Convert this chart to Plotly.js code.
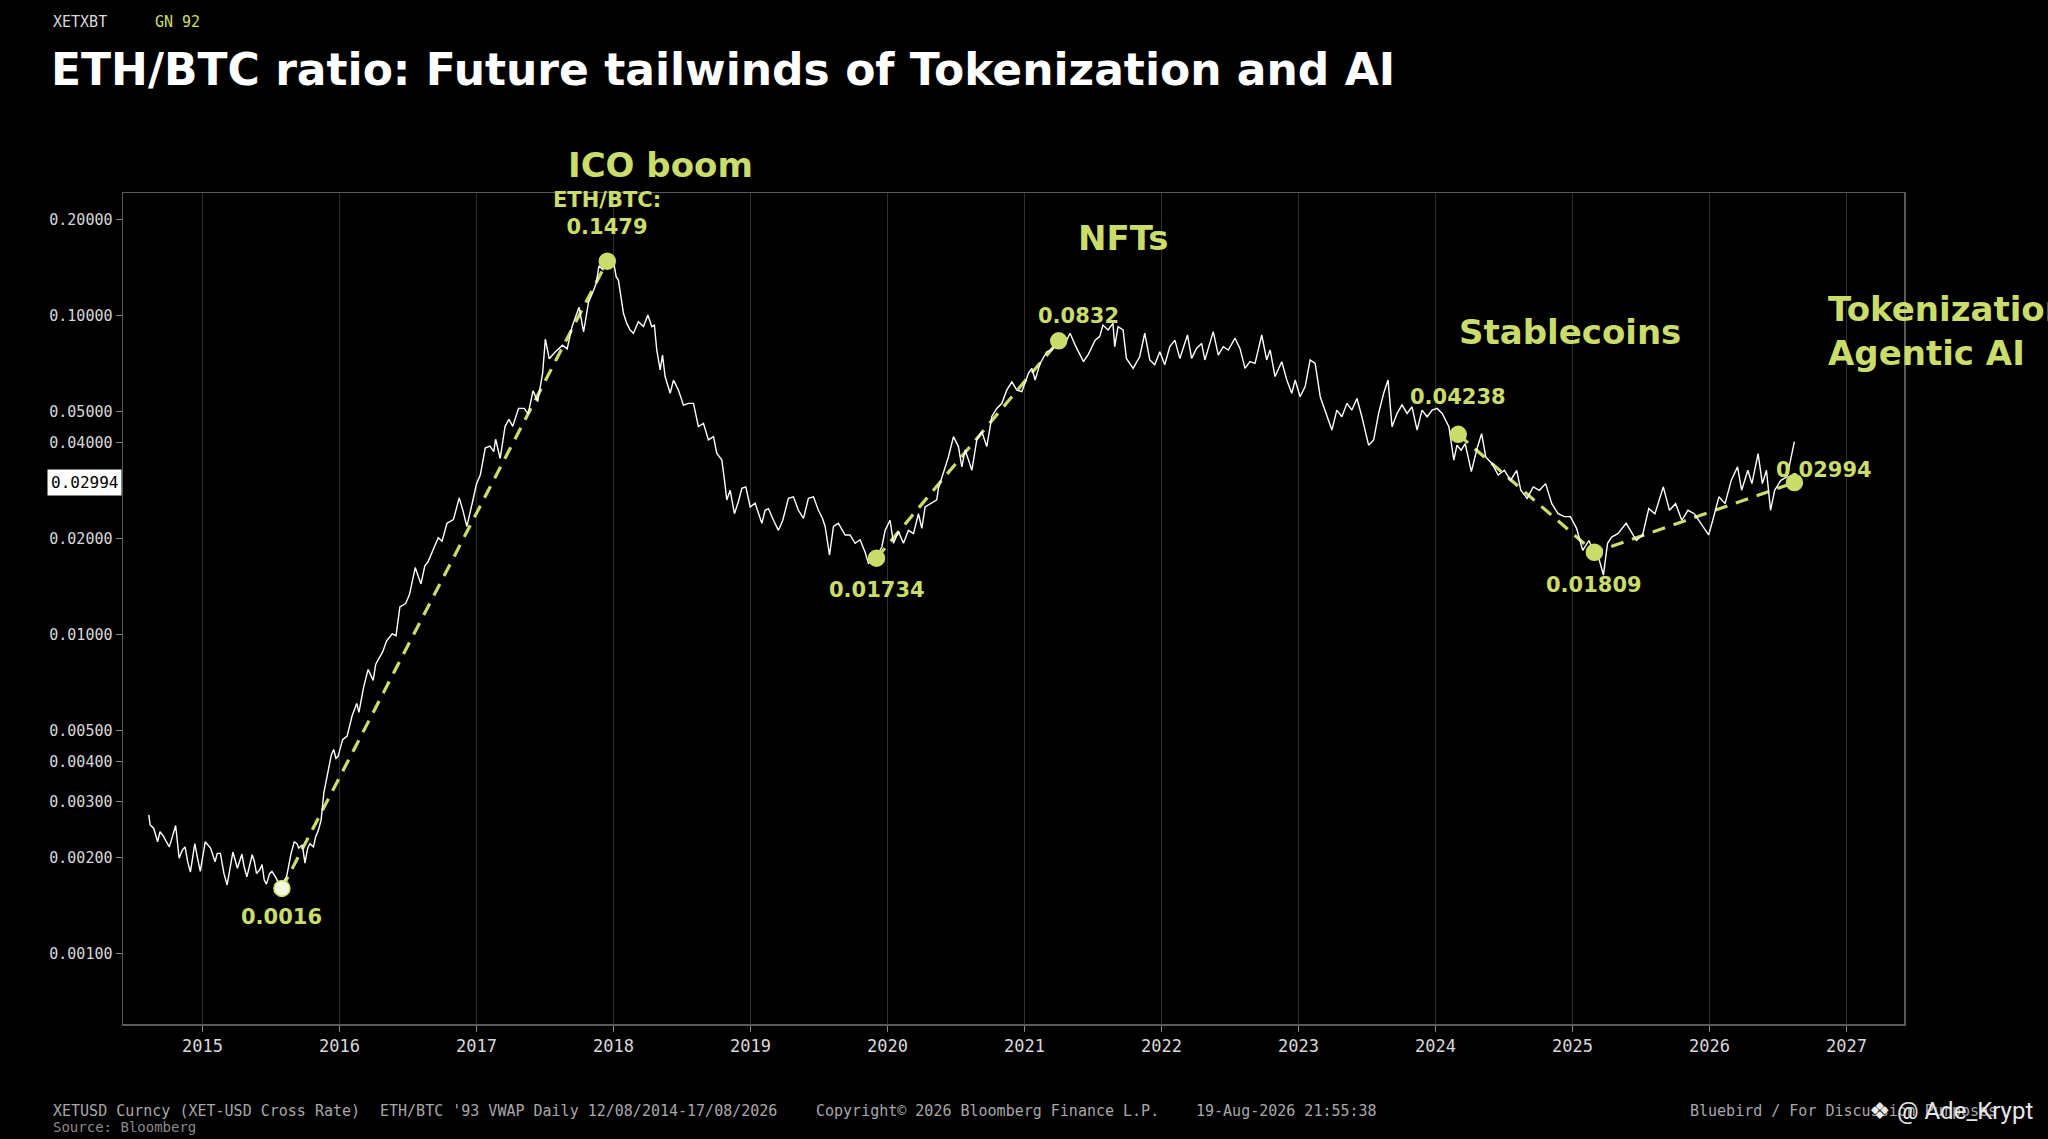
<!DOCTYPE html>
<html><head><meta charset="utf-8">
<script src="https://cdn.plot.ly/plotly-3.0.1.min.js"></script>
<style>html,body{margin:0;padding:0;background:#000;} #chart{width:2048px;height:1139px;}</style>
</head><body><div id="chart"></div>
<script>
// ---- DATA ----
const years = [
2014.608,2014.618,2014.644,2014.673,2014.690,2014.716,2014.732,2014.758,2014.781,2014.804,
2014.830,2014.853,2014.873,2014.892,2014.912,2014.944,2014.964,2014.984,2015.020,2015.042,
2015.059,2015.092,2015.108,2015.131,2015.157,2015.180,2015.222,2015.239,2015.255,2015.288,
2015.304,2015.324,2015.363,2015.379,2015.395,2015.418,2015.435,2015.451,2015.467,2015.490,
2015.507,2015.539,2015.572,2015.598,2015.614,2015.647,2015.670,2015.690,2015.703,2015.729,
2015.748,2015.768,2015.784,2015.810,2015.827,2015.843,2015.866,2015.886,2015.908,2015.925,
2015.941,2015.958,2015.974,2015.990,2016.023,2016.056,
2016.092,2016.126,2016.142,2016.176,2016.209,2016.246,2016.265,2016.316,2016.344,2016.385,
2016.413,2016.441,2016.483,2016.511,2016.553,2016.595,2016.623,2016.645,2016.693,2016.721,
2016.749,2016.785,2016.832,2016.874,2016.902,2016.930,2016.972,2017.000,2017.028,2017.064,
2017.098,2017.126,2017.140,2017.173,2017.209,2017.237,2017.265,2017.307,2017.349,2017.377,
2017.413,2017.447,2017.483,2017.503,2017.531,2017.573,2017.628,2017.662,2017.698,2017.726,
2017.749,2017.782,2017.818,2017.852,2017.874,2017.894,2017.922,2017.944,2017.978,2018.006,
2018.020,
2018.036,2018.056,2018.073,2018.097,2018.122,2018.146,2018.182,2018.219,2018.251,2018.280,
2018.299,2018.316,2018.341,2018.358,2018.377,2018.414,2018.438,2018.474,2018.511,2018.547,
2018.584,2018.620,2018.657,2018.693,2018.730,2018.754,2018.791,2018.810,2018.827,2018.852,
2018.883,2018.912,2018.937,2018.966,2018.998,2019.034,2019.058,2019.083,2019.107,2019.131,
2019.168,2019.204,2019.236,2019.277,2019.314,2019.350,2019.387,2019.423,2019.460,2019.496,
2019.526,2019.545,2019.577,2019.606,2019.642,2019.691,2019.727,2019.764,2019.800,2019.837,
2019.861,2019.910,2019.959,2019.983,2020.019,2020.044,2020.080,2020.117,2020.153,2020.190,
2020.226,2020.251,2020.275,2020.324,2020.360,2020.372,2020.409,2020.445,2020.482,2020.518,
2020.543,2020.567,2020.616,2020.652,2020.689,2020.725,2020.762,2020.798,2020.835,2020.871,
2020.908,2020.944,2020.981,2021.029,2021.054,2021.078,2021.114,2021.163,2021.200,2021.243,
2021.285,2021.333,2021.370,2021.406,2021.431,2021.467,2021.516,
2021.549,2021.573,2021.610,2021.646,2021.659,2021.683,2021.720,2021.744,2021.793,2021.841,
2021.878,2021.915,2021.951,2021.988,2022.024,2022.061,2022.098,2022.134,2022.190,2022.220,
2022.256,2022.293,2022.317,2022.378,2022.415,2022.451,2022.488,2022.537,2022.573,2022.610,
2022.646,2022.683,2022.732,2022.768,2022.793,2022.829,2022.878,2022.915,2022.951,2022.976,
2023.012,2023.049,2023.085,2023.122,2023.159,2023.195,2023.244,2023.280,2023.317,2023.354,
2023.390,2023.427,2023.463,2023.512,2023.549,2023.585,2023.622,2023.654,2023.683,2023.720,
2023.756,2023.793,2023.829,2023.866,2023.902,2023.939,2023.976,2024.012,2024.049,2024.098,
2024.134,
2024.157,2024.187,2024.217,2024.262,2024.307,2024.337,2024.367,2024.413,2024.458,2024.503,
2024.548,2024.593,2024.623,2024.669,2024.714,2024.759,2024.804,2024.849,2024.895,2024.940,
2024.985,2025.030,2025.075,2025.120,2025.151,2025.196,2025.226,2025.256,2025.286,2025.331,
2025.392,2025.422,2025.467,2025.512,2025.557,2025.602,2025.663,2025.708,2025.753,2025.798,
2025.843,2025.889,2025.934,2025.994,2026.024,2026.069,2026.114,2026.160,2026.205,2026.235,
2026.280,2026.310,2026.355,2026.386,2026.416,2026.446,2026.476,2026.521,2026.566,2026.596,
2026.620
];
const ratio = [
0.00272,0.00253,0.00247,0.00224,0.00241,0.00233,0.00226,0.00216,0.00233,0.00252,
0.00199,0.00211,0.00216,0.00194,0.00180,0.00221,0.00199,0.00181,0.00224,0.00219,
0.00214,0.00194,0.00206,0.00206,0.00178,0.00164,0.00208,0.00196,0.00185,0.00205,
0.00187,0.00174,0.00204,0.00194,0.00178,0.00183,0.00190,0.00170,0.00165,0.00178,
0.00181,0.00172,0.00160,0.00170,0.00174,0.00206,0.00224,0.00221,0.00214,0.00219,
0.00192,0.00214,0.00221,0.00216,0.00233,0.00241,0.00262,0.00319,0.00359,0.00391,
0.00420,0.00436,0.00409,0.00415,0.00468,0.00480,
0.00555,0.00608,0.00570,0.00683,0.00777,0.00718,0.00807,0.00883,0.00955,0.01005,
0.00991,0.0122,0.0125,0.01333,0.0162,0.0144,0.0164,0.01683,0.0187,0.0201,
0.0196,0.0223,0.0229,0.0268,0.0244,0.0218,0.0261,0.0296,0.0316,0.0384,
0.0389,0.0374,0.0409,0.0356,0.0449,0.0472,0.0449,0.0511,0.0511,0.0491,
0.058,0.0537,0.0659,0.0843,0.0731,0.0766,0.0806,0.0785,0.0922,0.0997,
0.106,0.0888,0.110,0.119,0.126,0.143,0.139,0.148,0.143,0.143,
0.132,
0.129,0.1145,0.1015,0.0944,0.0899,0.0879,0.0955,0.0922,0.1003,0.0922,
0.0932,0.0779,0.0675,0.0751,0.0643,0.057,0.0627,0.0583,0.0523,0.053,
0.053,0.0448,0.0459,0.0407,0.0417,0.037,0.0352,0.0305,0.0264,0.0283,
0.0239,0.0261,0.0287,0.0290,0.0251,0.0258,0.0239,0.0223,0.0245,0.0248,
0.0228,0.0212,0.0228,0.0267,0.0270,0.0245,0.0231,0.0267,0.0270,0.0245,
0.0231,0.0218,0.01774,0.0218,0.0223,0.0205,0.0205,0.0193,0.0198,0.0181,
0.0167,0.0173,0.0188,0.0212,0.0228,0.0193,0.0210,0.0193,0.0212,0.0207,
0.0239,0.0215,0.0251,0.0258,0.0264,0.0287,0.032,0.036,0.0417,0.0388,
0.0335,0.0379,0.0327,0.0407,0.0432,0.0388,0.0482,0.0511,0.053,0.0583,
0.0619,0.0583,0.0577,0.0658,0.0682,0.0627,0.0707,0.0769,0.0779,0.0836,
0.0798,0.0879,0.0807,0.0756,0.0716,0.0756,0.0836,
0.0858,0.0933,0.0900,0.0944,0.0798,0.0922,0.0900,0.0733,0.0682,0.0742,
0.0879,0.0725,0.0700,0.0769,0.0700,0.0798,0.0836,0.0733,0.0868,0.0733,
0.0788,0.0817,0.0725,0.0889,0.0751,0.0798,0.0779,0.0848,0.0788,0.0682,
0.0716,0.0707,0.0868,0.0725,0.0779,0.0643,0.0716,0.0627,0.0570,0.0627,
0.0556,0.0598,0.0725,0.0707,0.0556,0.0499,0.0437,0.0505,0.0481,0.0530,
0.0505,0.0549,0.0481,0.0392,0.0407,0.0493,0.0570,0.0627,0.0448,0.0493,
0.0524,0.0493,0.0517,0.0437,0.0505,0.0481,0.0505,0.0511,0.0493,0.0448,
0.0352,
0.0392,0.0378,0.0396,0.0324,0.0387,0.0426,0.0360,0.0343,0.0316,0.0327,
0.0304,0.0327,0.0283,0.0267,0.0290,0.0283,0.0297,0.0257,0.0239,0.0234,
0.0234,0.0215,0.01835,0.0197,0.01835,0.0171,0.01535,0.0193,0.0202,0.0207,
0.0223,0.0213,0.0197,0.0205,0.0248,0.0239,0.0290,0.0245,0.0257,0.0228,
0.0245,0.0239,0.0223,0.0205,0.0228,0.0270,0.0257,0.0305,0.0335,0.0283,
0.0327,0.0297,0.0369,0.0297,0.0327,0.0245,0.0283,0.0304,0.0312,0.0360,
0.0402
];
const pivotYears  = [2015.58, 2017.955, 2019.92, 2021.25, 2024.166, 2025.16, 2026.62];
const pivotValues = [0.0016, 0.1479, 0.01734, 0.0832, 0.04238, 0.01809, 0.02994];
const pivotLabels = ['0.0016', 'ETH/BTC:<br>0.1479', '0.01734', '0.0832', '0.04238', '0.01809', '0.02994'];
const trendGroups = [[0, 1], [2, 3], [4, 5, 6]];
const themeLabels = ['ICO boom', 'NFTs', 'Stablecoins', 'Tokenization<br>Agentic AI'];
const yTickVals = [0.001, 0.002, 0.003, 0.004, 0.005, 0.01, 0.02, 0.04, 0.05, 0.1, 0.2];
const yTickText = ['0.00100','0.00200','0.00300','0.00400','0.00500','0.01000','0.02000','0.04000','0.05000','0.10000','0.20000'];
const xTickVals = [2015, 2016, 2017, 2018, 2019, 2020, 2021, 2022, 2023, 2024, 2025, 2026, 2027];
const lastValue = 0.02994;

// ---- STYLE ----
const ACC = '#cadd6b';
const MONO = 'DejaVu Sans Mono, monospace';
const SANS = 'DejaVu Sans, sans-serif';

const traces = [];
trendGroups.forEach(g => {
  traces.push({
    x: g.map(i => pivotYears[i]), y: g.map(i => pivotValues[i]),
    type: 'scatter', mode: 'lines', hoverinfo: 'skip',
    line: {color: ACC, width: 3.2, dash: '13px,9px'}
  });
});
traces.push({
  x: years, y: ratio, type: 'scatter', mode: 'lines', hoverinfo: 'skip',
  line: {color: '#ffffff', width: 1.4}
});
traces.push({
  x: pivotYears, y: pivotValues, type: 'scatter', mode: 'markers', hoverinfo: 'skip',
  marker: {size: 16, color: pivotValues.map((v, i) => i === 0 ? '#f6f8de' : ACC),
           line: {width: 1.5, color: pivotValues.map((v, i) => i === 0 ? ACC : ACC)}}
});

const labelShift = [[0, -29], [0, 48], [0, -32], [20, 25], [0, 37], [0, -33], [30, 12]];
const annotations = pivotLabels.map((t, i) => ({
  x: pivotYears[i], y: Math.log10(pivotValues[i]), xref: 'x', yref: 'y',
  text: '<b>' + t + '</b>', showarrow: false, xanchor: 'center', yanchor: 'middle',
  xshift: labelShift[i][0], yshift: labelShift[i][1],
  font: {family: SANS, size: 21, color: ACC}
}));

const themePos = [[0.302, 1.034, 'center'], [0.562, 0.946, 'center'], [0.8125, 0.833, 'center'], [0.956, 0.834, 'left']];
themeLabels.forEach((t, i) => {
  annotations.push({
    x: themePos[i][0], y: themePos[i][1], xref: 'paper', yref: 'paper',
    text: '<b>' + t + '</b>', showarrow: false, xanchor: themePos[i][2], yanchor: 'middle', align: 'left',
    font: {family: SANS, size: 34, color: ACC}
  });
});

// current value box on the y axis
annotations.push({
  x: 0, y: Math.log10(lastValue), xref: 'paper', yref: 'y', xanchor: 'right', yanchor: 'middle',
  xshift: -1, text: lastValue.toFixed(5), showarrow: false, bgcolor: '#ffffff', borderpad: 3,
  font: {family: MONO, size: 16, color: '#000000'}
});

// header / footer texts
const small = (x, y, text, color, size, family, anchor) => ({
  x: x, y: y, xref: 'paper', yref: 'paper', xanchor: anchor || 'left', yanchor: 'middle',
  text: text, showarrow: false, font: {family: family || MONO, size: size || 15, color: color}
});
annotations.push(small(-0.0404, 1.2058, 'XETXBT', '#d8d8d8', 15));
annotations.push(small(0.0168, 1.2058, 'GN 92', ACC, 15));
annotations.push(small(-0.0404, -0.1047, 'XETUSD Curncy (XET-USD Cross Rate)', '#a8a8a8', 15));
annotations.push(small(0.1429, -0.1047, "ETH/BTC '93 VWAP Daily 12/08/2014-17/08/2026", '#a8a8a8', 15));
annotations.push(small(0.3878, -0.1047, 'Copyright\u00a9 2026 Bloomberg Finance L.P.', '#a8a8a8', 15));
annotations.push(small(0.6012, -0.1047, '19-Aug-2026 21:55:38', '#a8a8a8', 15));
annotations.push(small(-0.0404, -0.1240, 'Source: Bloomberg', '#8a8a8a', 14));
annotations.push(small(0.8785, -0.1047, 'Bluebird / For Discussion Purposes', '#a8a8a8', 15));
annotations.push(small(0.9795, -0.1047, '\u2756 @ Ade_Krypt', '#e8e8e8', 24, 'Roboto, sans-serif'));

const layout = {
  width: 2048, height: 1139,
  paper_bgcolor: '#000000', plot_bgcolor: '#000000',
  margin: {l: 123, r: 144, t: 193, b: 115},
  showlegend: false, hovermode: false,
  title: {text: '<b>ETH/BTC ratio: Future tailwinds of Tokenization and AI</b>',
          x: 51 / 2048, xanchor: 'left', xref: 'container',
          y: 1 - 70 / 1139, yanchor: 'middle', yref: 'container',
          font: {family: SANS, size: 44, color: '#ffffff'}},
  xaxis: {
    range: [2014.42, 2027.42], tickvals: xTickVals, ticktext: xTickVals.map(String),
    showgrid: true, gridcolor: '#2f2f2f', gridwidth: 1, zeroline: false,
    showline: true, mirror: true, linecolor: '#5a5a5a', linewidth: 1.5,
    ticks: 'outside', ticklen: 6, tickcolor: '#888888',
    tickfont: {family: MONO, size: 17, color: '#d8d8d8'}
  },
  yaxis: {
    type: 'log', range: [-3.2208, -0.6165], tickvals: yTickVals, ticktext: yTickText,
    showgrid: false, zeroline: false,
    showline: true, mirror: true, linecolor: '#5a5a5a', linewidth: 1.5,
    ticks: 'outside', ticklen: 6, tickcolor: '#888888',
    tickfont: {family: MONO, size: 15, color: '#d8d8d8'}
  },
  annotations: annotations
};

Plotly.newPlot('chart', traces, layout, {displayModeBar: false, staticPlot: true});
</script>
</body></html>
